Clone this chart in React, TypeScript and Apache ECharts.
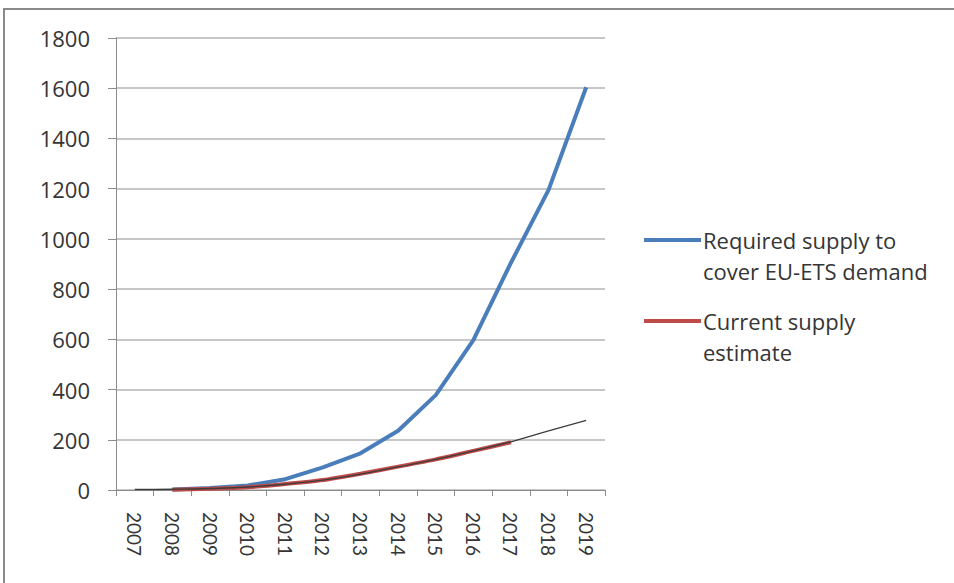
import React, { useEffect, useRef } from "react";
import * as echarts from "echarts";

// Years on the horizontal axis
const years = ["2007", "2008", "2009", "2010", "2011", "2012", "2013", "2014", "2015", "2016", "2017", "2018", "2019"];

// Required supply to cover EU-ETS demand
const requiredSupply = [null, 2, 8, 18, 43, 90, 146, 236, 378, 597, 905, 1195, 1604];

// Current supply estimate (to 2017)
const currentSupply = [null, 1, 5, 11, 24, 40, 65, 93, 122, 156, 190, null, null];

// Trend line through the current supply estimate, extended to 2019
const supplyTrend = [2, 3, 6, 12, 23, 39, 63, 92, 122, 156, 192, 235, 277];

const legendLabels = [
  ["Required supply to", "cover EU-ETS demand"],
  ["Current supply", "estimate"],
];

const BLUE = "#4a7ebb";
const RED = "#be4b48";
const TEXT = "#353535";
const FONT = "'Open Sans', Lato, sans-serif";

export default function App() {
  const ref = useRef<HTMLDivElement>(null);

  useEffect(() => {
    document.body.style.margin = "0";
    const chart = echarts.init(ref.current!, null, { renderer: "svg" });
    chart.setOption({
      animation: false,
      backgroundColor: "#ffffff",
      grid: { left: 116, right: 349, top: 38, bottom: 93 },
      xAxis: {
        type: "category",
        data: years,
        boundaryGap: true,
        axisLine: { show: true, lineStyle: { color: "#8c8c8c", width: 1 } },
        axisTick: { show: true, length: 6, alignWithLabel: false, lineStyle: { color: "#8c8c8c" } },
        axisLabel: {
          rotate: -90,
          margin: 22,
          color: TEXT,
          fontFamily: "Lato, sans-serif",
          fontSize: 19,
          interval: 0,
        },
      },
      yAxis: {
        type: "value",
        min: 0,
        max: 1800,
        interval: 200,
        axisLine: { show: true, lineStyle: { color: "#8c8c8c", width: 1 } },
        axisTick: { show: true, length: 8, lineStyle: { color: "#8c8c8c" } },
        splitLine: { show: true, lineStyle: { color: "#b4b4b4", width: 1.5 } },
        axisLabel: {
          margin: 26,
          color: TEXT,
          fontFamily: FONT,
          fontSize: 22,
          formatter: (v: number) => String(v),
        },
      },
      series: [
        {
          name: legendLabels[0].join(" "),
          type: "line",
          data: requiredSupply,
          showSymbol: false,
          lineStyle: { color: BLUE, width: 4 },
          itemStyle: { color: BLUE },
          z: 2,
        },
        {
          name: legendLabels[1].join(" "),
          type: "line",
          data: currentSupply,
          showSymbol: false,
          smooth: 0.2,
          lineStyle: { color: RED, width: 4 },
          itemStyle: { color: RED },
          z: 3,
        },
        {
          name: "trend",
          type: "line",
          data: supplyTrend,
          showSymbol: false,
          smooth: true,
          lineStyle: { color: "#3c3c3c", width: 1.3 },
          z: 4,
        },
      ],
      graphic: [
        // outer frame of the chart area
        {
          type: "rect",
          shape: { x: 4, y: 9, width: 1000, height: 700 },
          style: { fill: "none", stroke: "#8a8a8a", lineWidth: 2 },
          silent: true,
        },
        // legend
        {
          type: "line",
          shape: { x1: 644, y1: 240, x2: 701, y2: 240 },
          style: { stroke: BLUE, lineWidth: 4 },
        },
        {
          type: "text",
          x: 703,
          y: 224,
          style: {
            text: legendLabels[0].join("\n"),
            fill: TEXT,
            font: `22px ${FONT}`,
            lineHeight: 31,
          },
        },
        {
          type: "line",
          shape: { x1: 644, y1: 321, x2: 701, y2: 321 },
          style: { stroke: RED, lineWidth: 4 },
        },
        {
          type: "text",
          x: 703,
          y: 305,
          style: {
            text: legendLabels[1].join("\n"),
            fill: TEXT,
            font: `22px ${FONT}`,
            lineHeight: 31,
          },
        },
      ],
    });
    return () => chart.dispose();
  }, []);

  return <div ref={ref} style={{ width: 954, height: 583 }} />;
}
